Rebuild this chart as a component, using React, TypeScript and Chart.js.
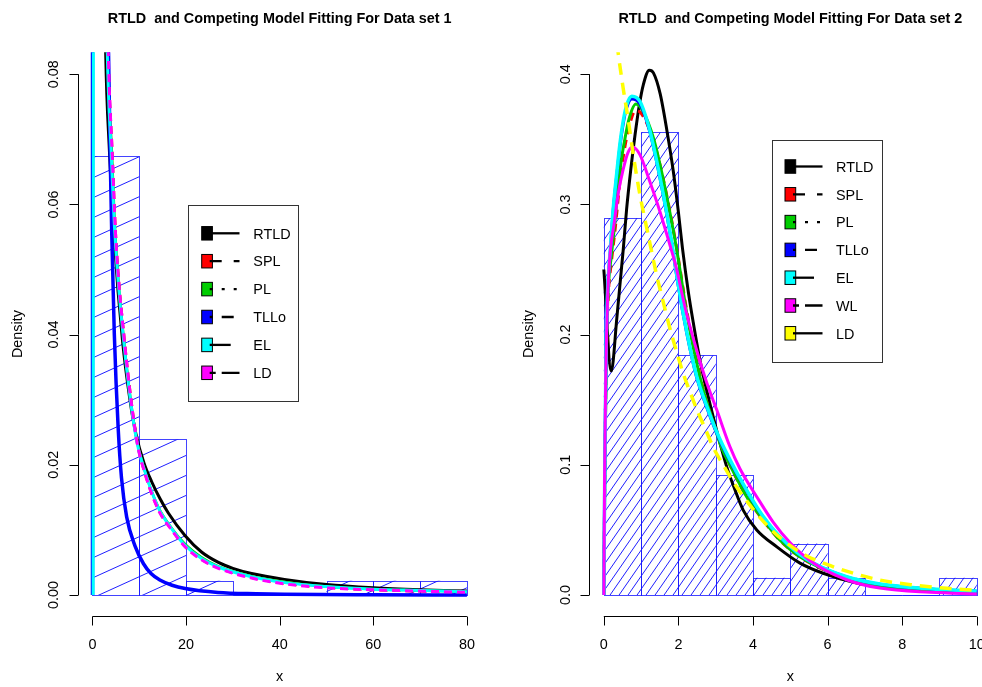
import React, { useEffect, useRef } from "react";
import { Chart, registerables } from "chart.js";

Chart.register(...registerables);

const FONT = '"Liberation Sans", Arimo, Arial, Helvetica, sans-serif';
const TXT = 14.4;
const H = 687;

// ---------------- Data set 1 ----------------
const title1 = "RTLD  and Competing Model Fitting For Data set 1";
const binMid1 = [5, 15, 25, 35, 45, 55, 65, 75];
const density1 = [0.0674, 0.0239, 0.0022, 0, 0, 0.0022, 0.0022, 0.0022];
const xTicks1 = [0, 20, 40, 60, 80];
const xTickLabels1 = ["0", "20", "40", "60", "80"];
const yTicks1 = [0, 0.02, 0.04, 0.06, 0.08];
const yTickLabels1 = ["0.00", "0.02", "0.04", "0.06", "0.08"];
const legendLabels1 = ["RTLD", "SPL", "PL", "TLLo", "EL", "LD"];
const legendColors1 = ["#000000", "#FF0000", "#00CD00", "#0000FF", "#00FFFF", "#FF00FF"];
const legendLty1 = [1, 2, 3, 4, 5, 6];

const rtld1 = [[2.5, 0.1], [2.82, 0.0834], [3.6, 0.0685], [4.66, 0.0545], [6.4, 0.0392], [8, 0.03], [9.3, 0.0247], [11, 0.0203], [12.65, 0.0174], [14.5, 0.0147], [16.2, 0.0126], [19.8, 0.0091], [23.3, 0.0066], [26.9, 0.005], [30, 0.0041], [34, 0.0033], [41, 0.0024], [50, 0.0016], [60, 0.0011], [70, 0.0008], [80, 0.0006]];
const spl1 = [[3.0, 0.1], [3.35, 0.0834], [4.2, 0.068], [4.95, 0.0552], [6.8, 0.0392], [9.4, 0.0241], [11.2, 0.0188], [14.07, 0.0132], [16.9, 0.0101], [19.8, 0.0075], [23.3, 0.0055], [26.9, 0.0042], [34, 0.0027], [41.1, 0.0018], [50, 0.0012], [60, 0.0008], [70, 0.0006], [80, 0.0004]];
const pl1 = [[3.0, 0.1], [3.3, 0.0834], [4.15, 0.068], [4.9, 0.0552], [6.7, 0.0393], [9.35, 0.0242], [11.2, 0.019], [14.07, 0.0135], [16.9, 0.0103], [19.8, 0.0078], [23.3, 0.0058], [26.9, 0.0044], [34, 0.0029], [41.1, 0.002], [50, 0.0013], [60, 0.0009], [70, 0.0007], [80, 0.0005]];
const tllo1 = [[0, 0], [0.03, 0.3], [1, 0.3], [2.5, 0.15], [3.2, 0.095], [3.5, 0.08], [3.8, 0.067], [4.1, 0.056], [4.67, 0.04], [5.5, 0.0255], [6.2, 0.018], [7.3, 0.012], [9.1, 0.0075], [10.9, 0.0048], [12.5, 0.0033], [14.4, 0.0023], [17, 0.0015], [19.8, 0.001], [26.8, 0.0004], [35, 0.00018], [41, 0.0001], [60, 0.00003], [80, 0.00001]];
const el1 = [[0.15, 0], [0.35, 0.3], [1.5, 0.25], [2.8, 0.1], [3.16, 0.0834], [4.0, 0.068], [4.8, 0.0552], [6.6, 0.0395], [9.3, 0.0242], [11.2, 0.019], [14.07, 0.0134], [16.9, 0.0102], [19.8, 0.0076], [23.3, 0.0056], [26.9, 0.0043], [34, 0.0028], [41.1, 0.0019], [50, 0.0013], [60, 0.0009], [70, 0.0007], [80, 0.0005]];
const ld1 = [[3.0, 0.1], [3.38, 0.0834], [4.2, 0.068], [4.95, 0.0552], [6.8, 0.0392], [9.4, 0.024], [11.2, 0.0187], [14.07, 0.0131], [16.9, 0.01], [19.8, 0.0074], [23.3, 0.0054], [26.9, 0.0041], [34, 0.0026], [41.1, 0.0017], [50, 0.0011], [60, 0.0008], [70, 0.0006], [80, 0.0004]];

// ---------------- Data set 2 ----------------
const title2 = "RTLD  and Competing Model Fitting For Data set 2";
const binMid2 = [0.5, 1.5, 2.5, 3.5, 4.5, 5.5, 6.5, 7.5, 8.5, 9.5];
const density2 = [0.2895, 0.3553, 0.1842, 0.0921, 0.0132, 0.0395, 0.0132, 0, 0, 0.0132];
const xTicks2 = [0, 2, 4, 6, 8, 10];
const xTickLabels2 = ["0", "2", "4", "6", "8", "10"];
const yTicks2 = [0, 0.1, 0.2, 0.3, 0.4];
const yTickLabels2 = ["0.0", "0.1", "0.2", "0.3", "0.4"];
const legendLabels2 = ["RTLD", "SPL", "PL", "TLLo", "EL", "WL", "LD"];
const legendColors2 = ["#000000", "#FF0000", "#00CD00", "#0000FF", "#00FFFF", "#FF00FF", "#FFFF00"];
const legendLty2 = [1, 2, 3, 4, 5, 6, 1];

const rtld2 = [[0, 0.25], [0.2, 0.172], [0.35, 0.213], [0.52, 0.265], [0.61, 0.296], [0.72, 0.326], [0.84, 0.354], [0.95, 0.376], [1.06, 0.392], [1.22, 0.403], [1.33, 0.401], [1.51, 0.385], [1.69, 0.357], [1.86, 0.326], [2.0, 0.294], [2.11, 0.266], [2.27, 0.232], [2.4, 0.209], [2.58, 0.18], [2.76, 0.157], [2.94, 0.136], [3.12, 0.116], [3.3, 0.098], [3.5, 0.082], [3.74, 0.065], [4.1, 0.05], [4.64, 0.037], [5.26, 0.0245], [5.88, 0.0167], [6.78, 0.0092], [7.5, 0.006], [8.3, 0.0038], [9, 0.0025], [10, 0.0013]];
const spl2 = [[0, 0], [0.03, 0.1], [0.07, 0.185], [0.12, 0.23], [0.2, 0.255], [0.3, 0.28], [0.45, 0.322], [0.57, 0.345], [0.7, 0.362], [0.85, 0.372], [1.0, 0.37], [1.33, 0.349], [1.55, 0.325], [1.77, 0.295], [1.95, 0.267], [2.22, 0.219], [2.4, 0.192], [2.67, 0.158], [2.94, 0.132], [3.38, 0.1], [3.83, 0.0755], [4.28, 0.057], [4.72, 0.042], [5.17, 0.031], [5.62, 0.0232], [6.51, 0.0122], [7.4, 0.0068], [8.75, 0.0036], [10, 0.0017]];
const pl2 = [[0, 0], [0.03, 0.1], [0.07, 0.19], [0.12, 0.235], [0.2, 0.26], [0.27, 0.279], [0.35, 0.302], [0.45, 0.33], [0.57, 0.351], [0.68, 0.366], [0.86, 0.377], [1.06, 0.371], [1.33, 0.351], [1.55, 0.325], [1.77, 0.294], [1.95, 0.266], [2.04, 0.25], [2.22, 0.217], [2.4, 0.19], [2.67, 0.157], [2.94, 0.132], [3.16, 0.113], [3.38, 0.1], [3.83, 0.0755], [4.28, 0.0576], [4.72, 0.0422], [5.17, 0.031], [5.62, 0.0235], [6.51, 0.0125], [7.4, 0.007], [8.75, 0.0038], [10, 0.0018]];
const tllo2 = [[0, 0], [0.03, 0.11], [0.06, 0.185], [0.09, 0.225], [0.18, 0.266], [0.25, 0.295], [0.35, 0.323], [0.43, 0.344], [0.52, 0.362], [0.61, 0.374], [0.75, 0.381], [0.97, 0.377], [1.24, 0.355], [1.42, 0.332], [1.6, 0.306], [1.82, 0.27], [1.97, 0.242], [2.13, 0.215], [2.31, 0.189], [2.49, 0.167], [2.76, 0.144], [3.03, 0.124], [3.38, 0.103], [3.83, 0.08], [4.28, 0.0595], [4.72, 0.0445], [5.17, 0.0328], [5.62, 0.0243], [6.51, 0.0139], [7.4, 0.0083], [8.75, 0.0047], [10, 0.0029]];
const el2 = [[0, 0], [0.03, 0.11], [0.06, 0.188], [0.09, 0.225], [0.18, 0.268], [0.25, 0.296], [0.35, 0.325], [0.43, 0.346], [0.52, 0.364], [0.61, 0.376], [0.75, 0.383], [0.97, 0.379], [1.24, 0.356], [1.42, 0.333], [1.6, 0.307], [1.82, 0.271], [1.97, 0.243], [2.13, 0.216], [2.31, 0.19], [2.49, 0.168], [2.76, 0.145], [3.03, 0.125], [3.38, 0.104], [3.83, 0.0806], [4.28, 0.06], [4.72, 0.0448], [5.17, 0.033], [5.62, 0.0245], [6.51, 0.014], [7.4, 0.0084], [8.75, 0.0048], [10, 0.003]];
const wl2 = [[0, 0], [0.02, 0.09], [0.05, 0.165], [0.1, 0.227], [0.17, 0.263], [0.27, 0.284], [0.39, 0.309], [0.52, 0.327], [0.65, 0.34], [0.77, 0.344], [0.97, 0.338], [1.24, 0.317], [1.51, 0.294], [1.77, 0.269], [1.91, 0.255], [2.22, 0.216], [2.49, 0.188], [2.76, 0.163], [3.03, 0.142], [3.38, 0.114], [3.65, 0.097], [4.1, 0.0755], [4.54, 0.056], [4.99, 0.0403], [5.62, 0.0245], [6.51, 0.0117], [7.4, 0.0053], [8.75, 0.0021], [10, 0.0008]];
const ld2 = [[0, 0.5], [0.2, 0.46], [0.39, 0.415], [0.52, 0.389], [0.66, 0.364], [0.79, 0.338], [0.97, 0.307], [1.15, 0.282], [1.28, 0.264], [1.42, 0.245], [1.55, 0.23], [1.77, 0.205], [1.95, 0.187], [2.13, 0.17], [2.31, 0.156], [2.53, 0.14], [2.76, 0.125], [2.94, 0.113], [3.2, 0.1], [3.56, 0.083], [4.0, 0.066], [4.46, 0.051], [4.9, 0.04], [5.44, 0.03], [5.98, 0.0235], [6.69, 0.0167], [7.4, 0.0115], [8.3, 0.0077], [9.2, 0.0051], [10, 0.0035]];

// R line types scaled by lwd
const LTY: Record<number, number[]> = {
  1: [],
  2: [12, 12],
  3: [3, 9],
  4: [3, 9, 12, 9],
  5: [21, 9],
  6: [6, 6, 18, 6],
};

type Curve = { pts: number[][]; color: string; width: number; dash: number[] };

interface Panel {
  title: string;
  binMid: number[];
  density: number[];
  xTicks: number[];
  xTickLabels: string[];
  yTicks: number[];
  yTickLabels: string[];
  xMin: number; xMax: number; yMin: number; yMax: number;
  area: { left: number; right: number; top: number; bottom: number };
  canvasW: number;
  hatchW: number; hatchH: number;
  curves: Curve[];
  legendLabels: string[];
  legendColors: string[];
  legendLty: number[];
  lg: { x: number; y: number; w: number; h: number; row0: number; dy: number; sqX: number; sqW: number; sqH: number; lx0: number; lx1: number; tx: number };
}

const panel1: Panel = {
  title: title1, binMid: binMid1, density: density1,
  xTicks: xTicks1, xTickLabels: xTickLabels1, yTicks: yTicks1, yTickLabels: yTickLabels1,
  xMin: -3.2, xMax: 83.2, yMin: -0.00321, yMax: 0.08337,
  area: { left: 77.5, right: 481.9, top: 52.3, bottom: 615.9 },
  canvasW: 491,
  hatchW: 44, hatchH: 20,
  curves: [
    { pts: rtld1, color: "#000000", width: 3, dash: [] },
    { pts: spl1, color: "#FF0000", width: 3, dash: [8, 5] },
    { pts: pl1, color: "#00CD00", width: 2.5, dash: [] },
    { pts: tllo1, color: "#0000FF", width: 3.5, dash: [] },
    { pts: el1, color: "#00FFFF", width: 3, dash: [] },
    { pts: ld1, color: "#FF00FF", width: 3, dash: [8, 5] },
  ],
  legendLabels: legendLabels1, legendColors: legendColors1, legendLty: legendLty1,
  lg: { x: 188.3, y: 205, w: 110, h: 196, row0: 233.3, dy: 27.9, sqX: 201.7, sqW: 10.7, sqH: 13.5, lx0: 209.7, lx1: 239.5, tx: 253.3 },
};

const panel2: Panel = {
  title: title2, binMid: binMid2, density: density2,
  xTicks: xTicks2, xTickLabels: xTickLabels2, yTicks: yTicks2, yTickLabels: yTickLabels2,
  xMin: -0.4, xMax: 10.4, yMin: -0.01605, yMax: 0.4168,
  area: { left: 97.9, right: 500.7, top: 52.3, bottom: 615.9 },
  canvasW: 520,
  hatchW: 9, hatchH: 13,
  curves: [
    { pts: rtld2, color: "#000000", width: 3, dash: [] },
    { pts: spl2, color: "#FF0000", width: 3, dash: [8, 6] },
    { pts: pl2, color: "#00CD00", width: 3, dash: [] },
    { pts: tllo2, color: "#0000FF", width: 3, dash: [] },
    { pts: el2, color: "#00FFFF", width: 3.5, dash: [] },
    { pts: wl2, color: "#FF00FF", width: 3, dash: [] },
    { pts: ld2, color: "#FFFF00", width: 3.5, dash: [12, 8] },
  ],
  legendLabels: legendLabels2, legendColors: legendColors2, legendLty: legendLty2,
  lg: { x: 280.7, y: 140, w: 109.6, h: 222, row0: 166.5, dy: 27.8, sqX: 294, sqW: 10.7, sqH: 13.5, lx0: 302, lx1: 331.5, tx: 345 },
};

function makeHatch(w: number, h: number, color: string): CanvasPattern | string {
  const c = document.createElement("canvas");
  c.width = w;
  c.height = h;
  const g = c.getContext("2d");
  if (!g) return color;
  g.strokeStyle = color;
  g.lineWidth = 1;
  for (let k = -1; k <= 1; k++) {
    g.beginPath();
    g.moveTo(-w, 2 * h + k * h);
    g.lineTo(2 * w, -h + k * h);
    g.stroke();
  }
  return g.createPattern(c, "repeat") || color;
}

function vText(ctx: CanvasRenderingContext2D, text: string, x: number, y: number) {
  ctx.save();
  ctx.translate(x, y);
  ctx.rotate(-Math.PI / 2);
  ctx.textAlign = "center";
  ctx.textBaseline = "alphabetic";
  ctx.fillText(text, 0, 0);
  ctx.restore();
}

function makePlugin(p: Panel) {
  return {
    id: "rStyle",
    afterDatasetDraw(chart: any, args: any) {
      if (args.index !== 0) return;
      const ctx: CanvasRenderingContext2D = chart.ctx;
      ctx.save();
      ctx.setLineDash([]);
      ctx.strokeStyle = "rgba(20,20,255,0.8)";
      ctx.lineWidth = 1;
      for (const el of args.meta.data as any[]) {
        const { x, y, base, width } = el.getProps(["x", "y", "base", "width"], true);
        const l = Math.round(x - width / 2) + 0.5;
        const r = Math.round(x + width / 2) + 0.5;
        const t = Math.round(y) + 0.5;
        const b = Math.round(base) + 0.5;
        ctx.strokeRect(l, t, r - l, b - t);
      }
      ctx.restore();
    },
    afterDraw(chart: any) {
      const ctx: CanvasRenderingContext2D = chart.ctx;
      const ca = chart.chartArea;
      const xs = chart.scales.x;
      const ys = chart.scales.y;
      ctx.save();
      ctx.fillStyle = "#000";
      ctx.strokeStyle = "#000";
      ctx.lineWidth = 1;
      ctx.setLineDash([]);

      // x axis
      const xt = xs.ticks.map((t: any) => t.value);
      const ay = Math.round(ca.bottom) + 0.5;
      ctx.beginPath();
      ctx.moveTo(xs.getPixelForValue(xt[0]), ay);
      ctx.lineTo(xs.getPixelForValue(xt[xt.length - 1]), ay);
      for (const v of xt) {
        const px = Math.round(xs.getPixelForValue(v)) + 0.5;
        ctx.moveTo(px, ay);
        ctx.lineTo(px, ay + 9);
      }
      ctx.stroke();
      ctx.font = `${TXT}px ${FONT}`;
      ctx.textAlign = "center";
      ctx.textBaseline = "alphabetic";
      xt.forEach((v: number, i: number) => {
        ctx.fillText(p.xTickLabels[i], xs.getPixelForValue(v), 648.5);
      });

      // y axis
      const yt = ys.ticks.map((t: any) => t.value);
      const ax = Math.round(ca.left) + 0.5;
      ctx.beginPath();
      ctx.moveTo(ax, ys.getPixelForValue(yt[0]));
      ctx.lineTo(ax, ys.getPixelForValue(yt[yt.length - 1]));
      for (const v of yt) {
        const py = Math.round(ys.getPixelForValue(v)) + 0.5;
        ctx.moveTo(ax, py);
        ctx.lineTo(ax - 9, py);
      }
      ctx.stroke();
      yt.forEach((v: number, i: number) => {
        vText(ctx, p.yTickLabels[i], ca.left - 19.4, ys.getPixelForValue(v));
      });

      // axis titles
      const cx = (ca.left + ca.right) / 2;
      const cy = (ca.top + ca.bottom) / 2;
      ctx.textAlign = "center";
      ctx.fillText("x", cx, 681);
      vText(ctx, "Density", ca.left - 56, cy);

      // main title
      ctx.font = `bold ${TXT}px ${FONT}`;
      ctx.textAlign = "center";
      ctx.fillText(p.title, cx, 23);

      // legend
      const L = p.lg;
      ctx.fillStyle = "#fff";
      ctx.fillRect(L.x, L.y, L.w, L.h);
      ctx.strokeStyle = "#333";
      ctx.lineWidth = 1;
      ctx.strokeRect(Math.round(L.x) + 0.5, Math.round(L.y) + 0.5, Math.round(L.w), Math.round(L.h));
      ctx.font = `${TXT}px ${FONT}`;
      p.legendLabels.forEach((lab, i) => {
        const ry = L.row0 + i * L.dy;
        ctx.fillStyle = p.legendColors[i];
        ctx.fillRect(L.sqX, ry - L.sqH / 2, L.sqW, L.sqH);
        ctx.strokeStyle = "#000";
        ctx.lineWidth = 1;
        ctx.setLineDash([]);
        ctx.strokeRect(L.sqX, ry - L.sqH / 2, L.sqW, L.sqH);
        ctx.setLineDash(LTY[p.legendLty[i]] || []);
        ctx.lineWidth = 2.3;
        ctx.lineCap = "butt";
        ctx.beginPath();
        ctx.moveTo(L.lx0, ry);
        ctx.lineTo(L.lx1, ry);
        ctx.stroke();
        ctx.setLineDash([]);
        ctx.fillStyle = "#000";
        ctx.textAlign = "left";
        ctx.fillText(lab, L.tx, ry + 5.2);
      });
      ctx.restore();
    },
  };
}

function buildConfig(p: Panel): any {
  const hatch = makeHatch(p.hatchW, p.hatchH, "#1f1fff");
  const datasets: any[] = [
    {
      type: "bar",
      label: "hist",
      data: p.binMid.map((x, i) => ({ x, y: p.density[i] })),
      backgroundColor: hatch,
      borderWidth: 0,
      inflateAmount: 0,
      barPercentage: 1,
      categoryPercentage: 1,
      order: 100,
    },
  ];
  p.curves.forEach((c, i) => {
    datasets.push({
      type: "line",
      label: "c" + i,
      data: c.pts.map(([x, y]) => ({ x, y })),
      borderColor: c.color,
      borderWidth: c.width,
      borderDash: c.dash,
      borderCapStyle: "butt",
      borderJoinStyle: "round",
      pointRadius: 0,
      fill: false,
      cubicInterpolationMode: "monotone",
      clip: 0,
      order: 50 - i,
    });
  });
  return {
    type: "bar",
    data: { datasets },
    options: {
      animation: false,
      responsive: false,
      devicePixelRatio: 1,
      events: [],
      layout: {
        padding: {
          left: p.area.left,
          right: p.canvasW - p.area.right,
          top: p.area.top,
          bottom: H - p.area.bottom,
        },
      },
      plugins: {
        legend: { display: false },
        tooltip: { enabled: false },
        title: { display: false },
      },
      scales: {
        x: {
          type: "linear",
          offset: false,
          min: p.xMin,
          max: p.xMax,
          display: false,
          afterBuildTicks: (s: any) => {
            s.ticks = p.xTicks.map((v) => ({ value: v }));
          },
        },
        y: {
          type: "linear",
          offset: false,
          min: p.yMin,
          max: p.yMax,
          display: false,
          afterBuildTicks: (s: any) => {
            s.ticks = p.yTicks.map((v) => ({ value: v }));
          },
        },
      },
    },
    plugins: [makePlugin(p)],
  };
}

function PanelChart({ panel, left }: { panel: Panel; left: number }) {
  const ref = useRef<HTMLCanvasElement>(null);
  useEffect(() => {
    const canvas = ref.current;
    if (!canvas) return;
    const chart = new Chart(canvas, buildConfig(panel));
    return () => chart.destroy();
  }, [panel]);
  return (
    <canvas
      ref={ref}
      width={panel.canvasW}
      height={H}
      style={{ position: "absolute", left, top: 0, width: panel.canvasW, height: H, display: "block" }}
    />
  );
}

export default function App() {
  return (
    <div
      style={{
        position: "fixed",
        left: 0,
        top: 0,
        width: 982,
        height: H,
        overflow: "hidden",
        background: "#ffffff",
      }}
    >
      <PanelChart panel={panel1} left={0} />
      <PanelChart panel={panel2} left={491} />
    </div>
  );
}
